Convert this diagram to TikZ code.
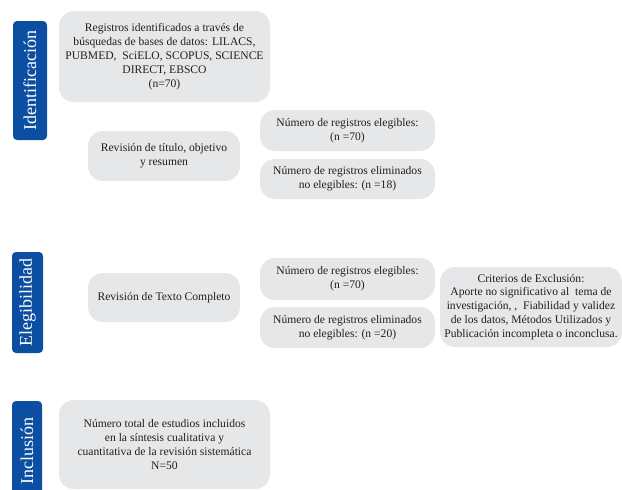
\documentclass[tikz,border=0pt]{standalone}
\usepackage{fontspec}
\setmainfont{Liberation Serif}
\definecolor{boxgray}{HTML}{E6E7E8}
\definecolor{labblue}{HTML}{0B4EA2}
\definecolor{txt}{HTML}{231F20}
\begin{document}
\begin{tikzpicture}[x=1pt,y=-1pt,
  gbox/.style={fill=boxgray,rounded corners=15pt,text=txt,align=center,inner sep=0pt,
    font=\fontsize{11.6}{13.9}\selectfont},
  blab/.style={fill=labblue,rounded corners=4pt,text=white,inner sep=0pt,rotate=90,
    font=\fontsize{18}{20}\selectfont}]
\useasboundingbox (0,0) rectangle (622,490);
% blue labels
\node[blab,minimum width=119pt,minimum height=34pt] (lid) at (30,80.5) {Identificación};
\node[blab,minimum width=101pt,minimum height=31pt] (lel) at (27.5,302.5) {Elegibilidad};
\node[blab,minimum width=100pt,minimum height=30pt] (lin) at (27,451) {Inclusión};
% boxes
\node[gbox,minimum width=211pt,minimum height=91pt] (reg) at (164.5,56.5)
  {Registros identificados a través de\\búsquedas de bases de datos: LILACS,\\PUBMED,\ \ SciELO, SCOPUS, SCIENCE\\DIRECT, EBSCO\\(n=70)};
\node[gbox,minimum width=152pt,minimum height=50pt] (rev1) at (164,156)
  {Revisión de título, objetivo\\y resumen};
\node[gbox,minimum width=175pt,minimum height=41pt] (el1) at (347.5,130.5)
  {Número de registros elegibles:\\(n =70)};
\node[gbox,minimum width=175pt,minimum height=40pt] (elim1) at (347.5,179)
  {Número de registros eliminados\\no elegibles: (n =18)};
\node[gbox,minimum width=152pt,minimum height=49pt] (rev2) at (164,297.5)
  {Revisión de Texto Completo};
\node[gbox,minimum width=175pt,minimum height=42pt] (el2) at (347.5,279)
  {Número de registros elegibles:\\(n =70)};
\node[gbox,minimum width=175pt,minimum height=41pt] (elim2) at (347.5,327.5)
  {Número de registros eliminados\\no elegibles: (n =20)};
\node[gbox,minimum width=182pt,minimum height=80pt] (crit) at (531,307)
  {Criterios de Exclusión:\\Aporte no significativo al\ \ tema de\\investigación, ,\ \ Fiabilidad y validez\\de los datos, Métodos Utilizados y\\Publicación incompleta o inconclusa.};
\node[gbox,minimum width=211pt,minimum height=89pt] (inc) at (164.5,444.5)
  {Número total de estudios incluidos\\en la síntesis cualitativa y\\cuantitativa de la revisión sistemática\\N=50};
\end{tikzpicture}
\end{document}
